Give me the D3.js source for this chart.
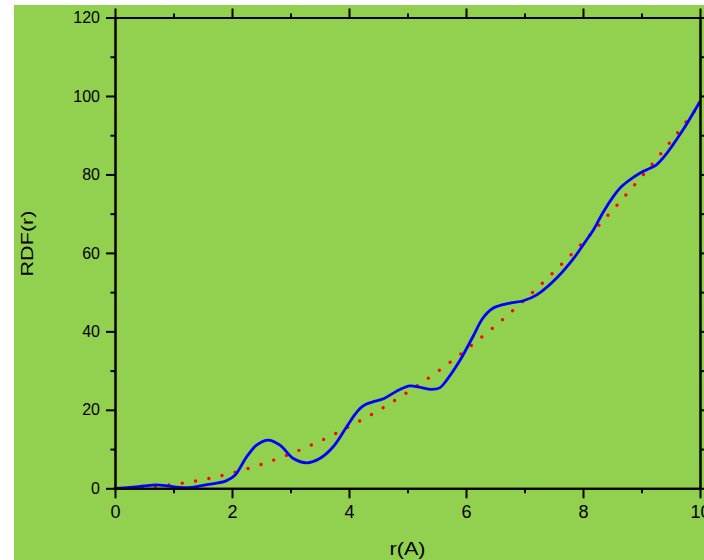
<!DOCTYPE html>
<html>
<head>
<meta charset="utf-8">
<script src="https://cdn.jsdelivr.net/npm/d3@7"></script>
<style>
  html, body { margin: 0; padding: 0; background: #ffffff; }
  svg { display: block; }
  text { font-family: Arial, "Liberation Sans", sans-serif; fill: #000; }
</style>
</head>
<body>
<svg id="chart" width="704" height="560"></svg>
<script>
// Radial distribution function: simulated curve (blue) and ideal reference (red, dotted)
const rdfR = [0, 0.25, 0.5, 0.7, 0.9, 1.1, 1.3, 1.6, 1.9, 2.05, 2.25, 2.42, 2.62, 2.82, 3.05, 3.28, 3.5, 3.73, 3.96,
  4.1, 4.2, 4.3, 4.45, 4.6, 4.75, 4.87, 5.04, 5.2, 5.41, 5.55, 5.67, 5.9, 6.12, 6.29, 6.46, 6.75, 6.98, 7.21,
  7.55, 7.84, 8.06, 8.18, 8.35, 8.52, 8.65, 8.8, 8.95, 9.09, 9.25, 9.37, 9.71, 10];
const rdfValues = [0, 0.2, 0.6, 0.85, 0.6, 0.2, 0.25, 1.0, 1.9, 3.3, 8, 11, 12.3, 11, 7.6, 6.5, 7.6, 10.6, 15.7,
  18.8, 20.5, 21.5, 22.2, 22.9, 24.2, 25.2, 26.1, 25.8, 25.2, 25.6, 27.6, 32.7, 38.7, 43.4, 45.9, 47.2, 47.8, 49.3,
  53.6, 58.6, 63.3, 65.9, 70.5, 74.4, 76.8, 78.6, 80.1, 81.2, 82.4, 84.2, 91.4, 98.6];

const idealR = [0, 0.5, 1, 1.5, 2, 2.5, 3, 3.5, 4, 4.5, 5, 5.5, 6, 6.5, 7, 7.5, 8, 8.5, 9, 9.5, 10];
const idealValues = [0, 0.25, 1.0, 2.2, 3.9, 6.1, 8.8, 12.0, 15.7, 19.8, 24.5, 29.6, 35.3, 41.4, 48.0, 55.1,
  62.7, 70.8, 79.4, 88.4, 98.0];

const xMajorTicks = [0, 2, 4, 6, 8, 10];
const xMinorTicks = [1, 3, 5, 7, 9];
const yMajorTicks = [0, 20, 40, 60, 80, 100, 120];
const yMinorTicks = [10, 30, 50, 70, 90, 110];

const svg = d3.select("#chart");
const W = 704, H = 560;
const plot = { left: 115, right: 700, top: 17.5, bottom: 488.3 };

// page background
svg.append("rect").attr("x", 14).attr("y", 5).attr("width", W - 14).attr("height", H - 5)
  .attr("fill", "#92d050");

const x = d3.scaleLinear().domain([0, 10]).range([plot.left, plot.right]);
const y = d3.scaleLinear().domain([0, 120]).range([plot.bottom, plot.top]);

const rdf = rdfR.map((r, i) => ({ r, v: rdfValues[i] }));
const ideal = idealR.map((r, i) => ({ r, v: idealValues[i] }));

const line = d3.line().x(d => x(d.r)).y(d => y(d.v)).curve(d3.curveCatmullRom.alpha(0.5));

// ideal reference, dotted
svg.append("path").datum(ideal)
  .attr("d", line)
  .attr("fill", "none")
  .attr("stroke", "#ff0000")
  .attr("stroke-width", 3.4)
  .attr("stroke-linecap", "round")
  .attr("stroke-dasharray", "0 13.5");

// simulated RDF
svg.append("path").datum(rdf)
  .attr("d", line)
  .attr("fill", "none")
  .attr("stroke", "#0000ff")
  .attr("stroke-width", 2.8)
  .attr("stroke-linejoin", "round");

// axes
function addAxis(axisFn, pos, transform, ticks, size, labelled, fontSize, pad) {
  const axis = axisFn(pos).tickValues(ticks).tickSize(size).tickSizeOuter(0).tickPadding(pad || 6)
    .tickFormat(labelled ? d3.format("d") : "");
  const g = svg.append("g").attr("transform", transform).call(axis);
  g.selectAll("path.domain").attr("stroke", "#000").attr("stroke-width", 2);
  g.selectAll(".tick line").attr("stroke", "#000").attr("stroke-width", 2);
  g.selectAll(".tick text").style("font-size", (fontSize || 16) + "px").attr("fill", "#000");
  return g;
}

addAxis(d3.axisBottom, x, `translate(0,${plot.bottom})`, xMajorTicks, 10, true, 18, 7);
addAxis(d3.axisBottom, x, `translate(0,${plot.bottom})`, xMinorTicks, 5, false);
addAxis(d3.axisTop, x, `translate(0,${plot.top})`, xMajorTicks, 9, false);
addAxis(d3.axisTop, x, `translate(0,${plot.top})`, xMinorTicks, 4, false);
addAxis(d3.axisLeft, y, `translate(${plot.left},0)`, yMajorTicks, 9, true, 16, 6);
addAxis(d3.axisLeft, y, `translate(${plot.left},0)`, yMinorTicks, 4.5, false);
addAxis(d3.axisRight, y, `translate(${plot.right},0)`, yMajorTicks, 9, false);
addAxis(d3.axisRight, y, `translate(${plot.right},0)`, yMinorTicks, 4, false);

// axis titles
svg.append("text")
  .attr("x", (plot.left + plot.right) / 2)
  .attr("y", 555)
  .attr("text-anchor", "middle")
  .attr("textLength", 36)
  .attr("lengthAdjust", "spacingAndGlyphs")
  .style("font-size", "18px")
  .text("r(A)");

svg.append("text")
  .attr("transform", "translate(33,243.5) rotate(-90)")
  .attr("text-anchor", "middle")
  .attr("textLength", 66)
  .attr("lengthAdjust", "spacingAndGlyphs")
  .style("font-size", "17px")
  .text("RDF(r)");
</script>
</body>
</html>
